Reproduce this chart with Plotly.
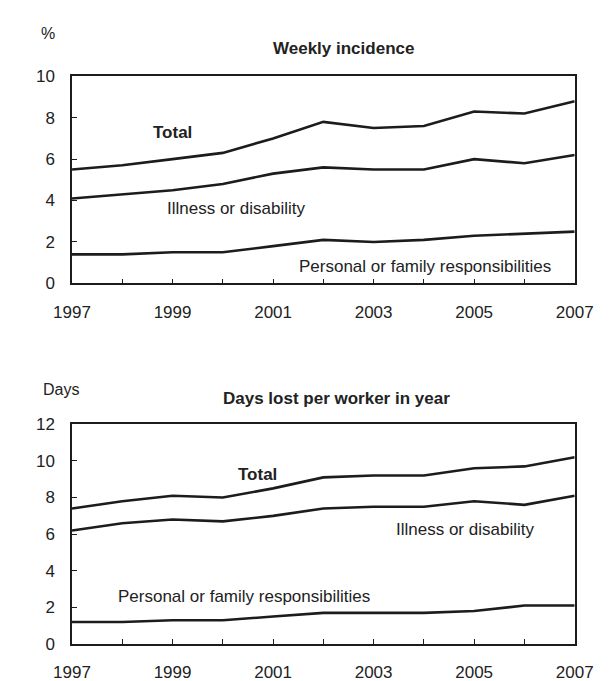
import plotly.graph_objects as go

years = list(range(1997, 2008))

# Weekly incidence (%)
weekly_total = [5.5, 5.7, 6.0, 6.3, 7.0, 7.8, 7.5, 7.6, 8.3, 8.2, 8.8]
weekly_illness = [4.1, 4.3, 4.5, 4.8, 5.3, 5.6, 5.5, 5.5, 6.0, 5.8, 6.2]
weekly_personal = [1.4, 1.4, 1.5, 1.5, 1.8, 2.1, 2.0, 2.1, 2.3, 2.4, 2.5]

# Days lost per worker in year
days_total = [7.4, 7.8, 8.1, 8.0, 8.5, 9.1, 9.2, 9.2, 9.6, 9.7, 10.2]
days_illness = [6.2, 6.6, 6.8, 6.7, 7.0, 7.4, 7.5, 7.5, 7.8, 7.6, 8.1]
days_personal = [1.2, 1.2, 1.3, 1.3, 1.5, 1.7, 1.7, 1.7, 1.8, 2.1, 2.1]

x_ticktext = [str(y) if y % 2 == 1 else "" for y in years]
top_yticks = [0, 2, 4, 6, 8, 10]
bot_yticks = [0, 2, 4, 6, 8, 10, 12]

FONT = "Liberation Sans, Arial, sans-serif"
LINE = dict(color="#1c1c1c", width=2.6)
TXT = "#222222"

fig = go.Figure()
for ys in (weekly_total, weekly_illness, weekly_personal):
    fig.add_trace(go.Scatter(x=years, y=ys, mode="lines", line=LINE,
                             xaxis="x", yaxis="y", showlegend=False, hoverinfo="skip"))
for ys in (days_total, days_illness, days_personal):
    fig.add_trace(go.Scatter(x=years, y=ys, mode="lines", line=LINE,
                             xaxis="x2", yaxis="y2", showlegend=False, hoverinfo="skip"))

W, H = 611, 681
xdom = [48 / W, 584 / W]

axis_common = dict(showline=True, mirror=True, linecolor="#1c1c1c", linewidth=1.5,
                   ticks="inside", ticklen=5, tickwidth=1, tickcolor="#1c1c1c",
                   showgrid=False, zeroline=False,
                   tickfont=dict(family=FONT, size=17, color=TXT))

fig.update_layout(
    width=W, height=H, autosize=False,
    margin=dict(l=0, r=0, t=0, b=0),
    paper_bgcolor="white", plot_bgcolor="white",
    xaxis=dict(domain=xdom, range=[1997, 2007], tickvals=years, ticktext=x_ticktext,
               anchor="y", ticklabelstandoff=12, **axis_common),
    yaxis=dict(domain=[1 - 274 / H, 1 - 61 / H], range=[0, 10], tickvals=top_yticks,
               anchor="x", ticklabelstandoff=12, **axis_common),
    xaxis2=dict(domain=xdom, range=[1997, 2007], tickvals=years, ticktext=x_ticktext,
                anchor="y2", ticklabelstandoff=12, **axis_common),
    yaxis2=dict(domain=[1 - 645 / H, 1 - 419 / H], range=[0, 12], tickvals=bot_yticks,
                anchor="x2", ticklabelstandoff=12, **axis_common),
)

def ann(text, x, y, xref, yref, bold=False, size=16):
    fig.add_annotation(text=f"<b>{text}</b>" if bold else text, x=x, y=y, xref=xref, yref=yref,
                       showarrow=False, xanchor="center", yanchor="middle",
                       font=dict(family=FONT, size=size, color=TXT))

# Units and titles
ann("%", 22 / W, 1 - 17 / H, "paper", "paper", size=16)
ann("Weekly incidence", 337 / W, 1 - 32 / H, "paper", "paper", bold=True, size=17)
ann("Days", 36 / W, 1 - 383 / H, "paper", "paper", size=16)
ann("Days lost per worker in year", 330 / W, 1 - 392 / H, "paper", "paper", bold=True, size=17)

# Series labels
ann("Total", 1999.0, 7.3, "x", "y", bold=True, size=17)
ann("Illness or disability", 2000.27, 3.63, "x", "y", size=17)
ann("Personal or family responsibilities", 2004.02, 0.81, "x", "y", size=17)
ann("Total", 2000.69, 9.26, "x2", "y2", bold=True, size=17)
ann("Illness or disability", 2004.82, 6.27, "x2", "y2", size=17)
ann("Personal or family responsibilities", 2000.43, 2.6, "x2", "y2", size=17)

fig.write_html("out.html")
